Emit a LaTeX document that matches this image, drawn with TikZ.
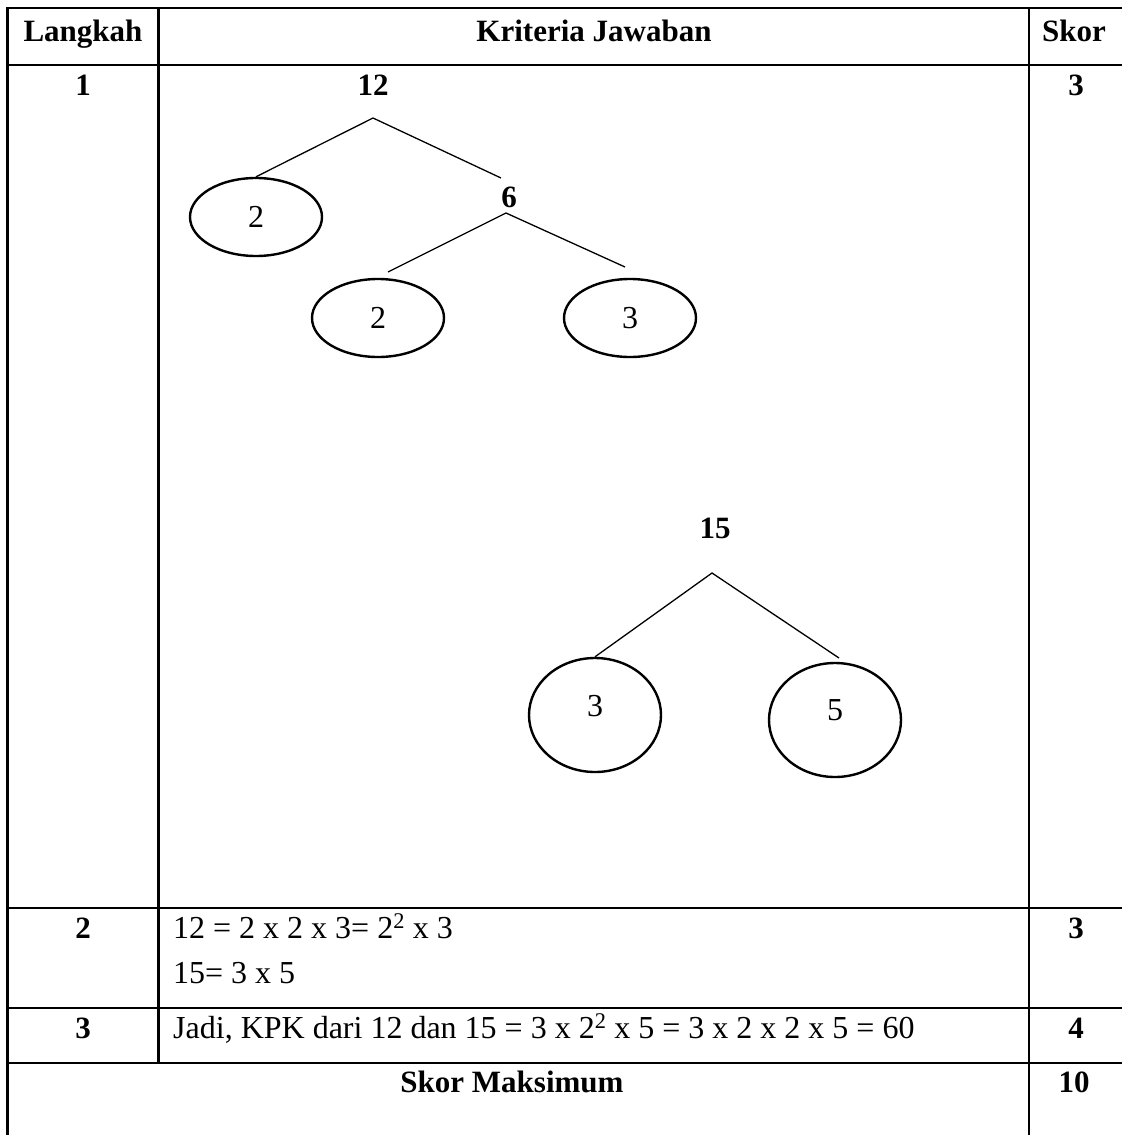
\documentclass[tikz,border=0pt]{standalone}
\usepackage{fontspec}
\setmainfont{Liberation Serif}
\usetikzlibrary{shapes.geometric}
\begin{document}
\begin{tikzpicture}[x=1pt,y=-1pt,
  tbl/.style={line width=2.4pt},
  branch/.style={line width=1.3pt},
  txt/.style={inner sep=0pt, anchor=base, font=\fontsize{32}{38}\selectfont},
  btxt/.style={txt, font=\fontsize{31}{37}\selectfont\bfseries},
  ltxt/.style={txt, anchor=base west},
  factor/.style={ellipse, draw, line width=2.4pt, inner sep=0pt,
    minimum width=132pt, minimum height=78pt, font=\fontsize{32}{38}\selectfont},
  tall/.style={minimum height=114pt, text depth=19pt}]
\useasboundingbox[fill=white] (0,0) rectangle (1122,1135);
% table rules
\draw[tbl] (1122,8) -- (7.5,8) -- (7.5,1135);
\draw[tbl] (158.5,8) -- (158.5,1063);
\draw[tbl] (1029,8) -- (1029,1135);
\draw[tbl] (7.5,65) -- (1122,65);
\draw[tbl] (7.5,908) -- (1122,908);
\draw[tbl] (7.5,1008) -- (1122,1008);
\draw[tbl] (7.5,1063) -- (1122,1063);
% header
\node[btxt] (hL) at (83,41) {Langkah};
\node[btxt] (hK) at (594,41) {Kriteria Jawaban};
\node[btxt] (hS) at (1074,41) {Skor};
% row 1
\node[btxt] (s1) at (83,95) {1};
\node[btxt] (k1) at (1076,95) {3};
\node[btxt] (n12) at (373,95) {12};
\coordinate (ap1) at (373,118);
\node[factor] (eA) at (256,217) {2};
\node[btxt] (n6) at (509,207) {6};
\coordinate (b6) at (501,178);
\draw[branch] (eA.north) -- (ap1) -- (b6);
\coordinate (ap2) at (506,213);
\node[factor] (eB) at (378,318) {2};
\node[factor] (eC) at (630,318) {3};
\coordinate (bB) at (388,272);
\coordinate (bC) at (625,267);
\draw[branch] (bB) -- (ap2) -- (bC);
\node[btxt] (n15) at (715,538) {15};
\coordinate (ap3) at (712,573);
\node[factor, tall] (eD) at (595,715) {3};
\node[factor, tall] (eE) at (835,720) {5};
\coordinate (bE) at (839,658);
\draw[branch] (eD.north) -- (ap3) -- (bE);
% row 2
\node[btxt] (s2) at (83,938) {2};
\node[btxt] (k2) at (1076,938) {3};
\node[ltxt] (t2a) at (173,938) {12 = 2 x 2 x 3= 2\textsuperscript{2} x 3};
\node[ltxt] (t2b) at (173,983) {15= 3 x 5};
% row 3
\node[btxt] (s3) at (83,1038) {3};
\node[btxt] (k3) at (1076,1038) {4};
\node[ltxt] (t3) at (173,1038) {Jadi, KPK dari 12 dan 15 = 3 x 2\textsuperscript{2} x 5 = 3 x 2 x 2 x 5 = 60};
% row 4
\node[btxt] (sm) at (512,1092) {Skor Maksimum};
\node[btxt] (k4) at (1074,1092) {10};
\end{tikzpicture}
\end{document}
